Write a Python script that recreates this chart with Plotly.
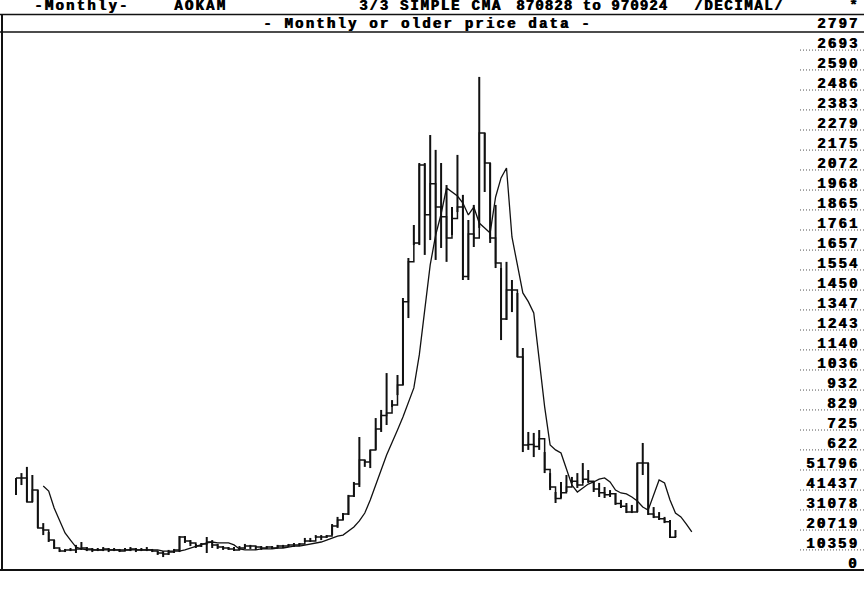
import plotly.graph_objects as go

# ---------------- data ----------------
highs = [477,502,534,492,414,243,197,155,109,109,
         114,130,145,119,114,114,119,114,114,109,
         114,119,114,114,119,109,98,98,104,109,
         176,176,155,135,140,171,155,135,124,119,
         119,124,135,130,124,124,124,124,130,130,
         135,140,140,166,166,181,181,181,238,275,
         295,389,456,689,570,622,787,829,1020,880,
         1010,1409,1616,1787,2108,2108,2253,2176,2108,1994,
         1880,2150,1943,1813,1891,2554,2264,2108,1891,1564,
         1596,1502,1435,1150,715,710,725,611,502,404,
         456,492,482,502,554,518,456,451,430,414,
         399,363,347,337,554,658,554,326,300,275,
         259,207]
lows = [389,440,352,352,218,181,145,109,93,93,
        98,88,104,98,93,98,98,93,98,93,
        98,98,93,98,98,93,78,67,78,88,
        93,140,124,114,119,88,114,109,104,104,
        98,104,109,109,104,104,109,109,114,114,
        119,119,124,145,145,166,155,166,181,218,
        259,285,378,430,534,528,622,715,751,844,
        906,958,1305,1683,1683,1632,1709,1606,1668,1596,
        1735,1854,1502,1502,1673,1772,1958,1694,1564,1191,
        1295,1336,1103,611,622,585,622,502,414,347,
        373,404,451,425,451,451,404,378,373,378,
        337,321,295,295,300,492,285,269,259,243,
        166,171]
closes = [477,477,352,414,218,207,155,114,98,104,
          104,109,114,109,104,104,109,104,104,98,
          104,109,104,104,104,98,88,83,93,104,
          171,150,140,124,135,145,130,119,114,109,
          104,114,124,124,119,114,119,114,124,124,
          130,130,135,150,150,171,171,176,228,259,
          290,383,445,570,560,622,730,800,813,855,
          958,1390,1596,1694,2098,1840,2000,1880,1830,1720,
          1820,1880,1520,1740,1720,2264,2108,1720,1590,1300,
          1450,1450,1103,647,650,640,680,520,430,370,
          400,430,460,440,470,460,420,400,390,395,
          345,330,300,300,554,554,290,275,265,250,
          170,176]
# 3/3 simple CMA line, starting at the 6th month
ma_start = 5
ma = [435,409,321,259,192,
      155,119,109,104,104,
      104,104,104,104,104,
      104,104,104,104,104,
      104,104,98,98,98,
      98,104,114,124,130,
      140,145,140,140,140,
      130,109,104,104,104,
      109,109,109,114,114,
      119,124,124,130,135,
      140,145,155,166,176,
      181,202,223,254,295,
      363,445,518,596,658,
      725,793,870,943,1114,
      1347,1580,1735,1844,1979,
      1958,1937,1901,1839,1880,
      1797,1772,1746,1932,2031,
      2082,1725,1580,1435,1390,
      1331,1090,845,648,622,
      606,528,440,404,425,
      445,456,471,477,456,
      414,399,394,378,357,
      326,311,389,466,451,
      363,295,275,238,197]

tick_vals = [2797,2693,2590,2486,2383,2279,2175,2072,1968,1865,1761,1657,1554,
             1450,1347,1243,1140,1036,932,829,725,622,518,414,311,207,104,0]
tick_text = ["2797","2693","2590","2486","2383","2279","2175","2072","1968","1865",
             "1761","1657","1554","1450","1347","1243","1140","1036","932","829",
             "725","622","51796","41437","31078","20719","10359","0"]

# ---------------- figure ----------------
W, H = 868, 592
TOP, BOT = 30, 570          # pixel rows of the top and bottom of the price scale
X0, DX = 16, 5.45           # pixel of first bar, pixel step per month

def py(p):                  # pixel row -> paper y
    return (BOT - p) / (BOT - TOP)

def px(p):                  # pixel column -> paper x
    return p / W

FONT = dict(family="Liberation Mono", size=14, color="#000", weight="bold",
            shadow="0.8px 0px 0px #000")
INK = "#111"

def spaced(t, ls):
    return '<span style="letter-spacing:%spx">%s</span>' % (ls, t)

n = len(closes)
idx = list(range(n))
seg_x, seg_y = [], []
for i, (h, l) in enumerate(zip(highs, lows)):
    seg_x += [i, i, None]
    seg_y += [l, h, None]

fig = go.Figure()
fig.add_trace(go.Scatter(x=seg_x, y=seg_y, mode="lines",
                         line=dict(color=INK, width=2), hoverinfo="skip"))
fig.add_trace(go.Scatter(x=idx, y=closes, mode="lines",
                         line=dict(color=INK, width=1.5, shape="hv"), hoverinfo="skip"))
fig.add_trace(go.Scatter(x=list(range(ma_start, ma_start + len(ma))), y=ma, mode="lines",
                         line=dict(color=INK, width=1.3), hoverinfo="skip"))

shapes = [
    dict(type="line", xref="paper", yref="paper", x0=0, x1=px(864), y0=py(14.5), y1=py(14.5),
         line=dict(color=INK, width=1.5)),
    dict(type="line", xref="paper", yref="paper", x0=0, x1=px(864), y0=py(32), y1=py(32),
         line=dict(color=INK, width=1.5)),
    dict(type="line", xref="paper", yref="paper", x0=px(2), x1=px(2), y0=py(14.5), y1=0,
         line=dict(color=INK, width=2)),
    dict(type="line", xref="paper", yref="paper", x0=0, x1=px(864), y0=0, y1=0,
         line=dict(color=INK, width=2)),
]
for v in tick_vals[1:-1]:
    shapes.append(dict(type="line", xref="paper", yref="y", x0=px(800), x1=px(864), y0=v, y1=v,
                       line=dict(color="#555", width=1, dash="1px,2px")))

ann = []
for v, t in zip(tick_vals, tick_text):
    ann.append(dict(text=spaced(t, 2.2), xref="paper", yref="y", x=px(860), y=v,
                    xanchor="right", yanchor="middle", yshift=6, showarrow=False,
                    font=FONT, borderpad=0))

row1 = [("-Monthly-", 33, 2.2), ("AOKAM", 173, 2.2), ("3/3 SIMPLE CMA", 358, 1.8),
        ("870828 to 970924", 515, 1.1), ("/DECIMAL/", 693, 1.6), ("*", 848, 0)]
for t, x, ls in row1:
    ann.append(dict(text=spaced(t, ls), xref="paper", yref="paper", x=px(x), y=py(6),
                    xanchor="left", yanchor="middle", showarrow=False, font=FONT, borderpad=0))
ann.append(dict(text=spaced("- Monthly or older price data -", 2.2), xref="paper", yref="paper",
                x=px(262), y=py(24), xanchor="left", yanchor="middle",
                showarrow=False, font=FONT, borderpad=0))

fig.update_layout(
    width=W, height=H,
    margin=dict(l=0, r=0, t=TOP, b=H - BOT),
    paper_bgcolor="white", plot_bgcolor="white",
    showlegend=False,
    xaxis=dict(range=[-X0 / DX, (W - X0) / DX], visible=False, fixedrange=True),
    yaxis=dict(range=[0, 2797], visible=False, fixedrange=True),
    shapes=shapes, annotations=ann,
)
fig.write_html("out.html", config={"displayModeBar": False},
               post_script="document.body.style.margin='0';document.body.style.overflow='hidden';")
